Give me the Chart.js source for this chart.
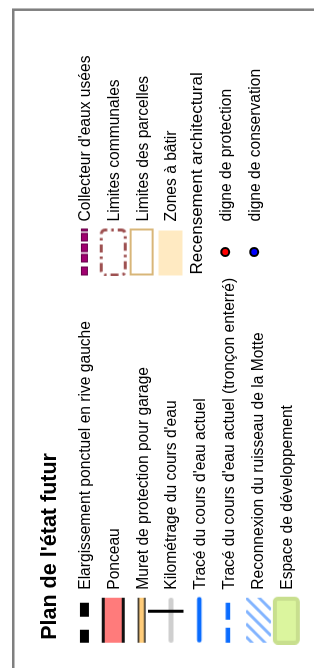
<!DOCTYPE html>
<html lang="fr">
<head>
<meta charset="utf-8">
<title>Plan de l'état futur</title>
<script src="https://cdn.jsdelivr.net/npm/chart.js@4.4.1/dist/chart.umd.min.js"></script>
<style>
  html, body { margin: 0; padding: 0; background: #fff; overflow: hidden; }
  /* la légende est posée à plat puis tournée d'un quart de tour */
  #wrap {
    position: absolute; left: 0; top: 0;
    width: 668px; height: 314px;
    transform-origin: 0 0;
    transform: translate(0, 668px) rotate(-90deg);
  }
</style>
</head>
<body>
<div id="wrap"><canvas id="legende" width="668" height="314"></canvas></div>
<script>
// Données de la légende
const titre = "Plan de l'état futur";
const amenagements = [
  'Elargissement ponctuel en rive gauche',
  'Ponceau',
  'Muret de protection pour garage',
  "Kilométrage du cours d'eau",
  "Tracé du cours d'eau actuel",
  "Tracé du cours d'eau actuel (tronçon enterré)",
  'Reconnexion du ruisseau de la Motte',
  'Espace de développement'
];
const limites = [
  "Collecteur d'eaux usées",
  'Limites communales',
  'Limites des parcelles',
  'Zones à bâtir'
];
const recensementTitre = 'Recensement architectural';
const recensement = ['digne de protection', 'digne de conservation'];

// Mise en page (pixels)
const W = 668, H = 314;
const rowPx = 30, colPx = 375;
const police = '"Liberation Sans", Arial, sans-serif';

// petits dessins des symboles
function symbole(dessin) {
  const c = document.createElement('canvas');
  c.width = 49; c.height = 45;
  const g = c.getContext('2d');
  dessin(g);
  return c;
}

const bleu = '#0a6cff';

const symbolesAmenagements = [
  symbole(g => { // elargissement
    g.fillStyle = '#000';
    g.fillRect(2, 18, 13, 9);
    g.fillRect(28, 18, 14, 9);
  }),
  symbole(g => { // ponceau
    g.fillStyle = '#ff7b7b';
    g.fillRect(2, 11, 45, 23);
    g.fillStyle = '#111';
    g.fillRect(2, 11, 45, 3);
    g.fillRect(2, 31, 45, 3);
  }),
  symbole(g => { // muret
    g.fillStyle = '#ffcc7a';
    g.fillRect(2, 18, 45, 8);
    g.fillStyle = '#222';
    g.fillRect(2, 18, 45, 1.5);
    g.fillRect(2, 24.5, 45, 1.5);
  }),
  symbole(g => { // kilometrage
    g.strokeStyle = '#cfcfcf';
    g.lineWidth = 5;
    g.lineCap = 'round';
    g.beginPath(); g.moveTo(4.5, 22.5); g.lineTo(44.5, 22.5); g.stroke();
    g.fillStyle = '#000';
    g.fillRect(32, 0, 3, 35);
  }),
  symbole(g => { // trace actuel
    g.strokeStyle = bleu;
    g.lineWidth = 4.5;
    g.lineCap = 'round';
    g.beginPath(); g.moveTo(4.5, 22); g.lineTo(45.5, 22); g.stroke();
  }),
  symbole(g => { // troncon enterre
    g.fillStyle = bleu;
    g.fillRect(2, 19.5, 15, 4.5);
    g.fillRect(25, 19.5, 17, 4.5);
  }),
  symbole(g => { // reconnexion
    g.save();
    g.beginPath(); g.rect(2, 11, 45, 25); g.clip();
    g.strokeStyle = '#82b4ff';
    g.lineWidth = 3;
    for (let s = -30; s < 60; s += 13) {
      g.beginPath(); g.moveTo(s, 36); g.lineTo(s + 25, 11); g.stroke();
    }
    g.restore();
  }),
  symbole(g => { // espace de developpement
    g.fillStyle = '#dbf59e';
    g.strokeStyle = '#c8df8e';
    g.lineWidth = 4;
    g.beginPath(); g.roundRect(2, 11, 44, 23, 3); g.fill(); g.stroke();
  })
];

const symbolesLimites = [
  symbole(g => { // collecteur
    g.fillStyle = '#a0006f';
    g.strokeStyle = '#66004a';
    g.lineWidth = 1;
    [[1, 9], [14, 8.5], [24.5, 8.5], [35, 8.5], [45, 3]].forEach(([a, l]) => {
      g.fillRect(a, 19, l, 7);
      g.strokeRect(a + 0.5, 19.5, l - 1, 6);
    });
  }),
  symbole(g => { // limites communales
    g.strokeStyle = '#9e5151';
    g.lineWidth = 3;
    g.setLineDash([8, 4, 2.5, 4]);
    g.beginPath(); g.roundRect(1.5, 10.5, 45, 24, 4); g.stroke();
  }),
  symbole(g => { // limites des parcelles
    g.strokeStyle = '#d8b679';
    g.lineWidth = 2;
    g.strokeRect(2, 11, 45, 22);
  }),
  symbole(g => { // zones a batir
    g.fillStyle = '#ffeac2';
    g.fillRect(1, 10, 45, 24);
  })
];

const couleursRecensement = ['#ff0000', '#0000ff'];

// textes et cadre dessinés à la position des points
const etiquettes = {
  id: 'etiquettes',
  beforeDraw(chart) {
    const ctx = chart.ctx;
    ctx.save();
    ctx.fillStyle = '#fff';
    ctx.fillRect(0, 0, W, H);
    ctx.strokeStyle = '#7f7f7f';
    ctx.lineWidth = 2.5;
    ctx.beginPath();
    ctx.moveTo(-5, 13.3);
    ctx.lineTo(658.3, 13.3);
    ctx.lineTo(658.3, H + 5);
    ctx.stroke();
    ctx.restore();
  },
  afterDatasetsDraw(chart) {
    const ctx = chart.ctx;
    ctx.save();
    ctx.fillStyle = '#000';
    ctx.textBaseline = 'alphabetic';
    ctx.textAlign = 'left';
    chart.data.datasets.forEach((ds, d) => {
      const meta = chart.getDatasetMeta(d);
      meta.data.forEach((pt, i) => {
        const enTete = ds.enTete && i === 0;
        ctx.font = (enTete ? '17px ' : '15.6px ') + police;
        ctx.fillText(ds.textes[i], pt.x + (enTete ? -22.5 : 30.5), pt.y + 5.5);
      });
    });
    const premier = chart.getDatasetMeta(0).data[0];
    ctx.font = 'bold 21.5px ' + police;
    ctx.fillText(titre, premier.x - 19.5, chart.scales.y.getPixelForValue(-1) + 0.5);
    ctx.restore();
  }
};

const datasets = [
  {
    textes: amenagements,
    data: amenagements.map((_, i) => ({ x: 0, y: i })),
    pointStyle: symbolesAmenagements,
    radius: 5
  },
  {
    textes: limites,
    data: limites.map((_, i) => ({ x: 1, y: i })),
    pointStyle: symbolesLimites,
    radius: 5
  },
  {
    enTete: true,
    yAxisID: 'y2',
    textes: [recensementTitre, ...recensement],
    data: [recensementTitre, ...recensement].map((_, i) => ({ x: 1, y: limites.length + i })),
    pointStyle: 'circle',
    radius: [0, 4, 4],
    borderWidth: 2,
    borderColor: '#000',
    backgroundColor: ['#fff', ...couleursRecensement]
  }
];

const config = {
  type: 'scatter',
  data: { datasets },
  options: {
    responsive: false,
    animation: false,
    events: [],
    layout: { padding: 0 },
    plugins: {
      legend: { display: false },
      tooltip: { enabled: false },
      title: { display: false }
    },
    scales: {
      x: { type: 'linear', display: false, bounds: 'data', min: -42.5 / colPx, max: (W - 42.5) / colPx },
      y: { type: 'linear', display: false, bounds: 'data', reverse: true, min: -81.5 / rowPx, max: (H - 81.5) / rowPx },
      y2: { type: 'linear', display: false, bounds: 'data', reverse: true, min: -78 / rowPx, max: (H - 78) / rowPx }
    }
  },
  plugins: [etiquettes]
};

const ctx = document.getElementById('legende').getContext('2d');
const legendeChart = new Chart(ctx, config);
</script>
</body>
</html>
